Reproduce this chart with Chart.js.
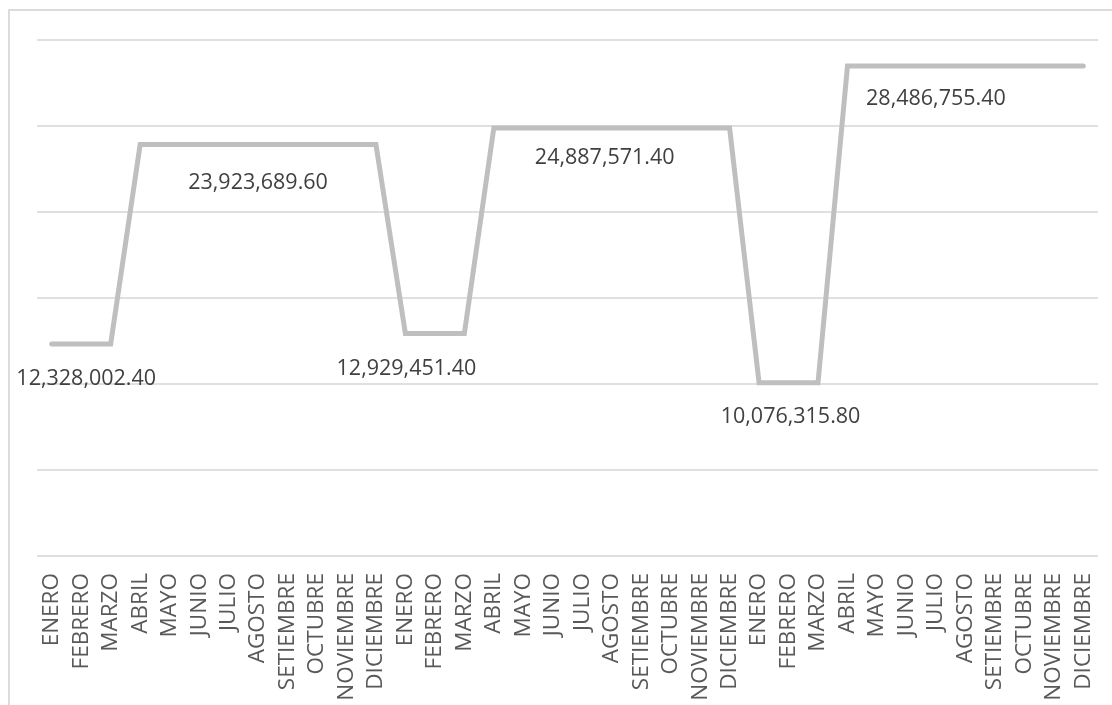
<!DOCTYPE html>
<html>
<head>
<meta charset="utf-8">
<script src="https://cdn.jsdelivr.net/npm/chart.js@4.4.1/dist/chart.umd.min.js"></script>
<style>
  html, body { margin: 0; padding: 0; background: #fff; overflow: hidden; }
  #frame {
    position: absolute; left: 8px; top: 9px;
    width: 1300px; height: 900px;
    border: 2px solid #dcdcdc;
  }
  #chart { position: absolute; left: 0; top: 0; }
</style>
</head>
<body>
<div id="frame"></div>
<canvas id="chart" width="1112" height="705"></canvas>
<script>
// months for three consecutive years
var months = ["ENERO", "FEBRERO", "MARZO", "ABRIL", "MAYO", "JUNIO", "JULIO",
              "AGOSTO", "SETIEMBRE", "OCTUBRE", "NOVIEMBRE", "DICIEMBRE"];
var categories = months.concat(months, months);

var amounts = [
    12328002.40, 12328002.40, 12328002.40,
    23923689.60, 23923689.60, 23923689.60, 23923689.60, 23923689.60,
    23923689.60, 23923689.60, 23923689.60, 23923689.60,
    12929451.40, 12929451.40, 12929451.40,
    24887571.40, 24887571.40, 24887571.40, 24887571.40, 24887571.40,
    24887571.40, 24887571.40, 24887571.40, 24887571.40,
    10076315.80, 10076315.80, 10076315.80,
    28486755.40, 28486755.40, 28486755.40, 28486755.40, 28486755.40,
    28486755.40, 28486755.40, 28486755.40, 28486755.40
];

// which points get a value label
var labelled = [1, 7, 12, 19, 25, 30];

var yMin = 0;
var yMax = 30000000;
var yStep = 5000000;

//--------------------------------------------------------------------
// * value labels under the line, one per step
//--------------------------------------------------------------------
var labelShift = { 1: [5, 35], 7: [0, 38], 12: [1, 35], 19: [-7, 30], 25: [2, 34], 30: [0, 33] };

var valueLabels = {
    id: 'valueLabels',
    afterDatasetsDraw: function(chart) {
        var ctx = chart.ctx;
        var xs = chart.scales.x, ys = chart.scales.y;
        ctx.save();
        ctx.font = '21.5px "Open Sans"';
        ctx.fillStyle = '#404040';
        ctx.textAlign = 'center';
        ctx.textBaseline = 'middle';
        labelled.forEach(function(i) {
            var v = amounts[i];
            var s = labelShift[i] || [0, 34];
            var txt = v.toLocaleString('en-US', { minimumFractionDigits: 2, maximumFractionDigits: 2 });
            ctx.fillText(txt, xs.getPixelForValue(i) + s[0], ys.getPixelForValue(v) + s[1]);
        });
        ctx.restore();
    }
};

function makeChart() {
    var ctx = document.getElementById('chart').getContext('2d');
    var chart = new Chart(ctx, {
        type: 'line',
        data: {
            labels: categories,
            datasets: [{
                data: amounts,
                borderColor: '#bfbfbf',
                borderWidth: 5,
                borderCapStyle: 'round',
                borderJoinStyle: 'miter',
                pointRadius: 0,
                tension: 0,
                fill: false
            }]
        },
        options: {
            responsive: false,
            animation: false,
            events: [],
            layout: { padding: { top: 40, left: 37, right: 14, bottom: 0 } },
            plugins: {
                legend: { display: false },
                tooltip: { enabled: false }
            },
            scales: {
                x: {
                    offset: true,
                    grid: { display: false, drawTicks: false },
                    border: { display: false },
                    ticks: {
                        autoSkip: false,
                        minRotation: 90,
                        maxRotation: 90,
                        padding: 17,
                        color: '#595959',
                        font: { family: '"Open Sans"', size: 22.5 }
                    },
                    afterFit: function(scale) {
                        scale.height = 149;
                        scale.paddingLeft = 0;
                        scale.paddingRight = 0;
                    }
                },
                y: {
                    min: yMin,
                    max: yMax,
                    grid: { color: '#e0e0e0', lineWidth: 2, drawTicks: false },
                    border: { display: false },
                    ticks: { display: false, stepSize: yStep },
                    afterFit: function(scale) { scale.width = 0; }
                }
            }
        },
        plugins: [valueLabels]
    });
}

makeChart();
</script>
</body>
</html>
